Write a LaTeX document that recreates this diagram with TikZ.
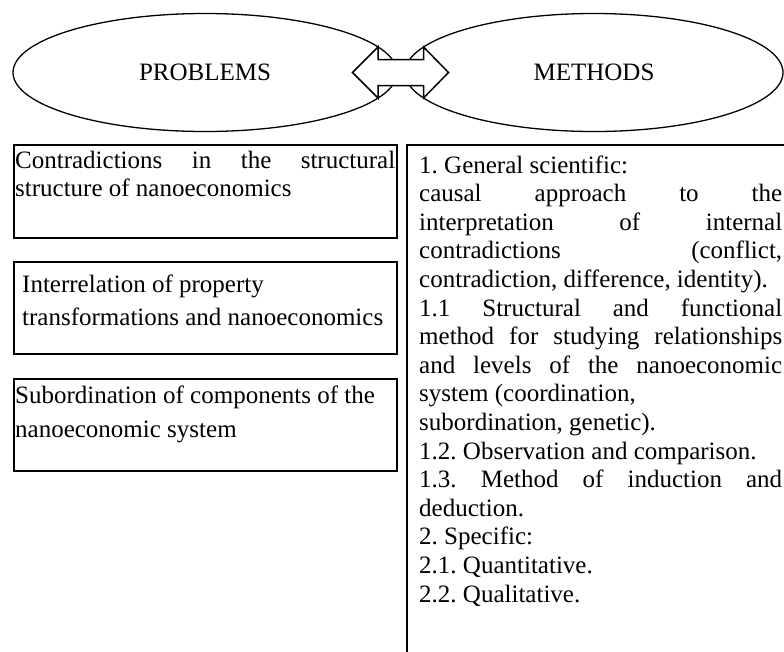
\documentclass[tikz,border=0pt]{standalone}
\usepackage{fontspec}
\setmainfont{Liberation Serif}
\usetikzlibrary{shapes.geometric}
\begin{document}
\frenchspacing
\begin{tikzpicture}[x=1pt,y=-1pt,
  oval/.style={draw, ellipse, line width=1.3pt, inner sep=0pt, minimum height=118pt, font=\fontsize{25}{28}\selectfont},
  boxline/.style={draw, line width=1.8pt, inner sep=0pt, anchor=north west},
  txt/.style={anchor=base west, inner sep=0pt, font=\fontsize{25}{28.6}\selectfont},
  arrowshape/.style={draw, fill=white, line width=1.5pt, line join=miter}]
\useasboundingbox (0,0) rectangle (784,651);

% ellipses
\node[oval, minimum width=384pt] (problems) at (205,72.5) {PROBLEMS};
\node[oval, minimum width=378pt] (methods) at (594,72.5) {METHODS};

% double arrow between them
\coordinate (lt) at (352.5,72.5);
\coordinate (rt) at (448.5,72.5);
\draw[arrowshape] (lt) -- (378,47) -- (378,59.5) -- (423.5,59.5) -- (423.5,47) -- (rt)
  -- (423.5,98) -- (423.5,85.5) -- (378,85.5) -- (378,98) -- cycle;

% problem boxes
\node[boxline, minimum width=383pt, minimum height=93pt] (p1) at (13,144) {};
\node[boxline, minimum width=383pt, minimum height=92pt] (p2) at (13,261) {};
\node[boxline, minimum width=383pt, minimum height=92pt] (p3) at (13,378) {};

\node[txt] (t1) at (15,168) {\parbox[t]{380pt}{\frenchspacing\fontsize{25}{28}\selectfont
  \makebox[\linewidth][s]{Contradictions in the structural}\\
  structure of nanoeconomics}};
\node[txt] (t2) at (22,292) {\parbox[t]{370pt}{\frenchspacing\fontsize{25}{33}\selectfont
  Interrelation of property\\
  transformations and nanoeconomics}};
\node[txt] (t3) at (15,403) {\parbox[t]{380pt}{\frenchspacing\fontsize{25}{34}\selectfont
  Subordination of components of the\\
  nanoeconomic system}};

% methods box (extends past the right and bottom edges)
\node[boxline, minimum width=420pt, minimum height=540pt] (m) at (406,144) {};

\node[txt] (t4) at (419,173) {\parbox[t]{363pt}{\frenchspacing\fontsize{25}{28.6}\selectfont
  1. General scientific:\\
  \makebox[\linewidth][s]{causal approach to the}\\
  \makebox[\linewidth][s]{interpretation of internal}\\
  \makebox[\linewidth][s]{contradictions (conflict,}\\
  contradiction, difference, identity).\\
  \makebox[\linewidth][s]{1.1 Structural and functional}\\
  \makebox[\linewidth][s]{method for studying relationships}\\
  \makebox[\linewidth][s]{and levels of the nanoeconomic}\\
  system (coordination,\\
  subordination, genetic).\\
  1.2. Observation and comparison.\\
  \makebox[\linewidth][s]{1.3. Method of induction and}\\
  deduction.\\
  2. Specific:\\
  2.1. Quantitative.\\
  2.2. Qualitative.}};
\end{tikzpicture}
\end{document}
